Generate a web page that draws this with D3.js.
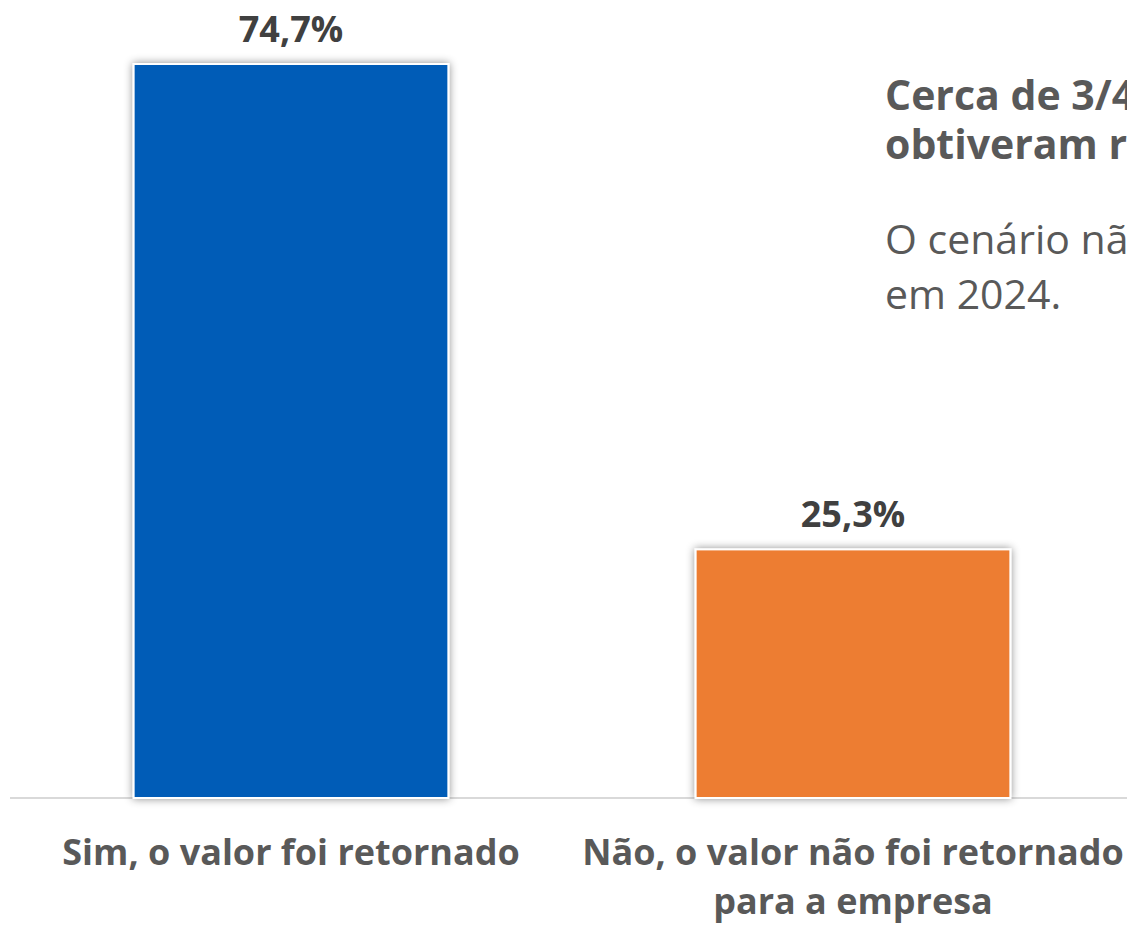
<!DOCTYPE html>
<html>
<head>
<meta charset="utf-8">
<script src="https://cdn.jsdelivr.net/npm/d3@7"></script>
<style>
  body { margin: 0; background: #fff; }
  svg { display: block; font-family: "Open Sans", sans-serif; }
</style>
</head>
<body>
<svg width="1127" height="926"></svg>
<script>
const categorias = ['Sim, o valor foi retornado', 'Não, o valor não foi retornado|para a empresa'];
const valores = [74.7, 25.3];
const cores = ['#005BB7', '#ED7D31'];
const rotulos = ['74,7%', '25,3%'];
const notaNegrito = ['Cerca de 3/4 das empresas', 'obtiveram retorno do valor.'];
const notaNormal = ['O cenário não se alterou', 'em 2024.'];

const svg = d3.select('svg');
const largura = +svg.attr('width');

const x = d3.scaleBand()
    .domain(categorias)
    .range([10, 1134])
    .paddingInner(0.44)
    .paddingOuter(0.22);

const y = d3.scaleLinear()
    .domain([0, 74.7])
    .range([798, 64]);

// sombra das barras
const defs = svg.append('defs');
const f = defs.append('filter').attr('id', 'sombra')
    .attr('x', '-10%').attr('y', '-10%').attr('width', '120%').attr('height', '120%');
f.append('feDropShadow')
    .attr('dx', 0).attr('dy', 0).attr('stdDeviation', 4)
    .attr('flood-color', '#000').attr('flood-opacity', 0.45);

// linha de base
svg.append('line')
    .attr('x1', 10).attr('x2', largura)
    .attr('y1', y(0)).attr('y2', y(0))
    .attr('stroke', '#d9d9d9').attr('stroke-width', 2);

svg.selectAll('rect.barra').data(categorias)
    .enter().append('rect')
        .attr('class', 'barra')
        .attr('x', d => x(d))
        .attr('y', (d, i) => y(valores[i]))
        .attr('width', x.bandwidth())
        .attr('height', (d, i) => y(0) - y(valores[i]))
        .attr('fill', (d, i) => cores[i])
        .attr('stroke', '#fff')
        .attr('stroke-width', 2)
        .attr('filter', 'url(#sombra)');

svg.selectAll('text.rotulo').data(categorias)
    .enter().append('text')
        .attr('class', 'rotulo')
        .attr('x', d => x(d) + x.bandwidth() / 2)
        .attr('y', (d, i) => y(valores[i]) - 22)
        .attr('text-anchor', 'middle')
        .attr('font-weight', 700)
        .attr('font-size', 36)
        .attr('fill', '#404040')
        .text((d, i) => rotulos[i]);

// eixo x (sem linhas)
const eixo = svg.append('g')
    .attr('transform', `translate(0,${y(0)})`)
    .call(d3.axisBottom(x).tickSize(0).tickFormat(''))
    .attr('font-family', null)
    .attr('font-size', null);
eixo.select('.domain').remove();

eixo.selectAll('.tick').each(function(d) {
    const t = d3.select(this).append('text')
        .attr('text-anchor', 'middle')
        .attr('font-weight', 700)
        .attr('font-size', 36)
        .attr('fill', '#595959')
        .attr('y', 67);
    d.split('|').forEach((linha, i) => {
        t.append('tspan').attr('x', 0).attr('dy', i === 0 ? 0 : 49).text(linha);
    });
});

// nota à direita
const nota = svg.append('g').attr('fill', '#595959');
notaNegrito.forEach((l, i) => {
    nota.append('text').attr('x', 885).attr('y', 110 + i * 49)
        .attr('font-weight', 700).attr('font-size', 41).text(l);
});
notaNormal.forEach((l, i) => {
    nota.append('text').attr('x', 885).attr('y', 254 + i * 55)
        .attr('font-weight', 400).attr('font-size', 41).text(l);
});
</script>
</body>
</html>
